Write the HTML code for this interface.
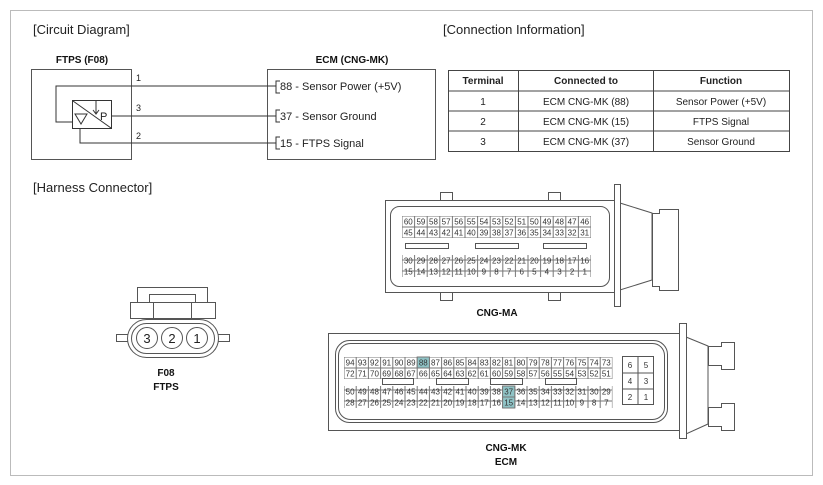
<!DOCTYPE html>
<html><head><meta charset="utf-8"><style>
body{margin:0;background:#fff}
svg{display:block;font-family:"Liberation Sans",Arial,sans-serif}
.c{font-size:8px;text-anchor:middle;fill:#333}
.t{font-size:11px;fill:#222}
.b{font-size:10px;font-weight:bold;text-anchor:middle;fill:#111}
</style></head><body>
<svg width="823" height="485" viewBox="0 0 823 485">
<defs>
<pattern id="pa" x="402" y="216" width="12.6" height="11" patternUnits="userSpaceOnUse"><rect x="0" y="0" width="12.6" height="11" fill="#fff" stroke="#777" stroke-width="1"/></pattern>
<pattern id="pk" x="344" y="357" width="12.2" height="11" patternUnits="userSpaceOnUse"><rect x="0" y="0" width="12.2" height="11" fill="#fff" stroke="#777" stroke-width="1"/></pattern>
</defs>
<rect x="10.5" y="10.5" width="802" height="465" fill="#fff" stroke="#bbb"/>
<text x="33" y="34" font-size="13" fill="#222">[Circuit Diagram]</text>
<text x="443" y="34" font-size="13" fill="#222">[Connection Information]</text>
<text x="33" y="192" font-size="13" fill="#222">[Harness Connector]</text>

<!-- circuit -->
<text x="82" y="63" class="b" font-size="10">FTPS (F08)</text>
<text x="352" y="63" class="b">ECM (CNG-MK)</text>
<rect x="31.5" y="69.5" width="100" height="90" fill="none" stroke="#555"/>
<rect x="267.5" y="69.5" width="168" height="90" fill="none" stroke="#555"/>
<g stroke="#333" fill="none" stroke-width="1">
<polyline points="276,86 56,86 56,122 72,122"/>
<line x1="112" y1="116" x2="276" y2="116"/>
<polyline points="80,128 80,143 276,143"/>
<rect x="72.5" y="100.5" width="39" height="28"/>
<line x1="73" y1="101" x2="111" y2="128"/>
<line x1="96" y1="101" x2="96" y2="113"/><polyline points="93,110 96,114 99,110"/>
<polygon points="75,114 87,114 81,124"/>
<polyline points="280,81 276,81 276,93 280,93"/>
<polyline points="280,110 276,110 276,122 280,122"/>
<polyline points="280,137 276,137 276,149 280,149"/>
</g>
<text x="100" y="120" font-size="11" fill="#222">P</text>
<text x="136" y="81" font-size="9" fill="#222">1</text>
<text x="136" y="111" font-size="9" fill="#222">3</text>
<text x="136" y="139" font-size="9" fill="#222">2</text>
<text x="280" y="90" class="t">88 - Sensor Power (+5V)</text>
<text x="280" y="120" class="t">37 - Sensor Ground</text>
<text x="280" y="147" class="t">15 - FTPS Signal</text>

<!-- table -->
<g stroke="#444" fill="none">
<rect x="448.5" y="70.5" width="341" height="81"/>
<line x1="449" y1="91" x2="790" y2="91"/>
<line x1="449" y1="111" x2="790" y2="111"/>
<line x1="449" y1="131" x2="790" y2="131"/>
<line x1="518.5" y1="70" x2="518.5" y2="151"/>
<line x1="653.5" y1="70" x2="653.5" y2="151"/>
</g>
<g font-size="10" text-anchor="middle" fill="#222">
<text x="483" y="84" font-weight="bold">Terminal</text><text x="586" y="84" font-weight="bold">Connected to</text><text x="721" y="84" font-weight="bold">Function</text>
<text x="483" y="105">1</text><text x="586" y="105">ECM CNG-MK (88)</text><text x="721" y="105">Sensor Power (+5V)</text>
<text x="483" y="125">2</text><text x="586" y="125">ECM CNG-MK (15)</text><text x="721" y="125">FTPS Signal</text>
<text x="483" y="145">3</text><text x="586" y="145">ECM CNG-MK (37)</text><text x="721" y="145">Sensor Ground</text>
</g>

<!-- F08 connector -->
<g stroke="#555" fill="#fff">
<rect x="137.5" y="287.5" width="70" height="20"/>
<rect x="149.5" y="294.5" width="46" height="10"/>
<rect x="130.5" y="302.5" width="85" height="16"/>
<rect x="153.5" y="302.5" width="38" height="16"/>
<rect x="116.5" y="334.5" width="113" height="7"/>
<rect x="127.5" y="319.5" width="91" height="38" rx="19"/>
<rect x="131.5" y="323.5" width="83" height="30" rx="15"/>
<circle cx="147" cy="338" r="10.5"/><circle cx="172" cy="338" r="10.5"/><circle cx="197" cy="338" r="10.5"/>
</g>
<g font-size="13" text-anchor="middle" fill="#222"><text x="147" y="343">3</text><text x="172" y="343">2</text><text x="197" y="343">1</text></g>
<text x="166" y="376" class="b" font-size="11">F08</text>
<text x="166" y="390" class="b" font-size="11">FTPS</text>

<!-- CNG-MA -->
<g stroke="#555" fill="#fff">
<rect x="440.5" y="192.5" width="12" height="9"/><rect x="548.5" y="192.5" width="12" height="9"/>
<rect x="440.5" y="291.5" width="12" height="9"/><rect x="548.5" y="291.5" width="12" height="9"/>
<rect x="385.5" y="200.5" width="229" height="92"/>
<rect x="390.5" y="206.5" width="219" height="80" rx="9"/>
<polygon points="620,203 652,213 652,280 620,290"/>
<path d="M652.5 213.5h7v-4h19v81h-19v-4h-7z"/>
<rect x="614.5" y="184.5" width="6" height="122"/>
</g>
<rect x="402" y="216" width="189" height="22" fill="url(#pa)"/>
<rect x="402" y="255" width="189" height="22" fill="url(#pa)"/>
<g fill="#fff" stroke="#555"><rect x="405.5" y="243.5" width="43" height="5"/><rect x="475.5" y="243.5" width="43" height="5"/><rect x="543.5" y="243.5" width="43" height="5"/></g>
<g class="c">
<text x="408.3" y="224.5">60</text><text x="420.9" y="224.5">59</text><text x="433.5" y="224.5">58</text><text x="446.1" y="224.5">57</text><text x="458.7" y="224.5">56</text><text x="471.3" y="224.5">55</text><text x="483.9" y="224.5">54</text><text x="496.5" y="224.5">53</text><text x="509.1" y="224.5">52</text><text x="521.7" y="224.5">51</text><text x="534.3" y="224.5">50</text><text x="546.9" y="224.5">49</text><text x="559.5" y="224.5">48</text><text x="572.1" y="224.5">47</text><text x="584.7" y="224.5">46</text>
<text x="408.3" y="235.5">45</text><text x="420.9" y="235.5">44</text><text x="433.5" y="235.5">43</text><text x="446.1" y="235.5">42</text><text x="458.7" y="235.5">41</text><text x="471.3" y="235.5">40</text><text x="483.9" y="235.5">39</text><text x="496.5" y="235.5">38</text><text x="509.1" y="235.5">37</text><text x="521.7" y="235.5">36</text><text x="534.3" y="235.5">35</text><text x="546.9" y="235.5">34</text><text x="559.5" y="235.5">33</text><text x="572.1" y="235.5">32</text><text x="584.7" y="235.5">31</text>
<text x="408.3" y="263.5">30</text><text x="420.9" y="263.5">29</text><text x="433.5" y="263.5">28</text><text x="446.1" y="263.5">27</text><text x="458.7" y="263.5">26</text><text x="471.3" y="263.5">25</text><text x="483.9" y="263.5">24</text><text x="496.5" y="263.5">23</text><text x="509.1" y="263.5">22</text><text x="521.7" y="263.5">21</text><text x="534.3" y="263.5">20</text><text x="546.9" y="263.5">19</text><text x="559.5" y="263.5">18</text><text x="572.1" y="263.5">17</text><text x="584.7" y="263.5">16</text>
<text x="408.3" y="274.5">15</text><text x="420.9" y="274.5">14</text><text x="433.5" y="274.5">13</text><text x="446.1" y="274.5">12</text><text x="458.7" y="274.5">11</text><text x="471.3" y="274.5">10</text><text x="483.9" y="274.5">9</text><text x="496.5" y="274.5">8</text><text x="509.1" y="274.5">7</text><text x="521.7" y="274.5">6</text><text x="534.3" y="274.5">5</text><text x="546.9" y="274.5">4</text><text x="559.5" y="274.5">3</text><text x="572.1" y="274.5">2</text><text x="584.7" y="274.5">1</text>
</g>
<text x="497" y="316" class="b" font-size="11">CNG-MA</text>

<!-- CNG-MK -->
<g stroke="#555" fill="#fff">
<rect x="328.5" y="333.5" width="351" height="97"/>
<rect x="335.5" y="340.5" width="332" height="82" rx="14"/>
<rect x="338.5" y="343.5" width="326" height="76" rx="12"/>
<polygon points="686,337 708,346 708,424 686,434"/>
<path d="M708.5 346.5h13v-4h13v27h-13v-4h-13z"/>
<path d="M708.5 407.5h13v-4h13v27h-13v-4h-13z"/>
<rect x="679.5" y="323.5" width="7" height="115"/>
<rect x="622.5" y="356.5" width="31" height="48"/>
<line x1="638" y1="357" x2="638" y2="404"/><line x1="623" y1="373" x2="653" y2="373"/><line x1="623" y1="389" x2="653" y2="389"/>
</g>
<rect x="344" y="357" width="268.4" height="22" fill="url(#pk)"/>
<rect x="344" y="386" width="268.4" height="22" fill="url(#pk)"/>
<g fill="#8fc3c6" stroke="#777"><rect x="417.2" y="357" width="12.2" height="11"/><rect x="502.6" y="386" width="12.2" height="11"/><rect x="502.6" y="397" width="12.2" height="11"/></g>
<g fill="#fff" stroke="#555"><rect x="382.5" y="378.5" width="31" height="6"/><rect x="436.5" y="378.5" width="32" height="6"/><rect x="490.5" y="378.5" width="32" height="6"/><rect x="545.5" y="378.5" width="31" height="6"/></g>
<g class="c">
<text x="350.1" y="365.5">94</text><text x="362.3" y="365.5">93</text><text x="374.5" y="365.5">92</text><text x="386.7" y="365.5">91</text><text x="398.9" y="365.5">90</text><text x="411.1" y="365.5">89</text><text x="423.3" y="365.5">88</text><text x="435.5" y="365.5">87</text><text x="447.7" y="365.5">86</text><text x="459.9" y="365.5">85</text><text x="472.1" y="365.5">84</text><text x="484.3" y="365.5">83</text><text x="496.5" y="365.5">82</text><text x="508.7" y="365.5">81</text><text x="520.9" y="365.5">80</text><text x="533.1" y="365.5">79</text><text x="545.3" y="365.5">78</text><text x="557.5" y="365.5">77</text><text x="569.7" y="365.5">76</text><text x="581.9" y="365.5">75</text><text x="594.1" y="365.5">74</text><text x="606.3" y="365.5">73</text>
<text x="350.1" y="376.5">72</text><text x="362.3" y="376.5">71</text><text x="374.5" y="376.5">70</text><text x="386.7" y="376.5">69</text><text x="398.9" y="376.5">68</text><text x="411.1" y="376.5">67</text><text x="423.3" y="376.5">66</text><text x="435.5" y="376.5">65</text><text x="447.7" y="376.5">64</text><text x="459.9" y="376.5">63</text><text x="472.1" y="376.5">62</text><text x="484.3" y="376.5">61</text><text x="496.5" y="376.5">60</text><text x="508.7" y="376.5">59</text><text x="520.9" y="376.5">58</text><text x="533.1" y="376.5">57</text><text x="545.3" y="376.5">56</text><text x="557.5" y="376.5">55</text><text x="569.7" y="376.5">54</text><text x="581.9" y="376.5">53</text><text x="594.1" y="376.5">52</text><text x="606.3" y="376.5">51</text>
<text x="350.1" y="394.5">50</text><text x="362.3" y="394.5">49</text><text x="374.5" y="394.5">48</text><text x="386.7" y="394.5">47</text><text x="398.9" y="394.5">46</text><text x="411.1" y="394.5">45</text><text x="423.3" y="394.5">44</text><text x="435.5" y="394.5">43</text><text x="447.7" y="394.5">42</text><text x="459.9" y="394.5">41</text><text x="472.1" y="394.5">40</text><text x="484.3" y="394.5">39</text><text x="496.5" y="394.5">38</text><text x="508.7" y="394.5">37</text><text x="520.9" y="394.5">36</text><text x="533.1" y="394.5">35</text><text x="545.3" y="394.5">34</text><text x="557.5" y="394.5">33</text><text x="569.7" y="394.5">32</text><text x="581.9" y="394.5">31</text><text x="594.1" y="394.5">30</text><text x="606.3" y="394.5">29</text>
<text x="350.1" y="405.5">28</text><text x="362.3" y="405.5">27</text><text x="374.5" y="405.5">26</text><text x="386.7" y="405.5">25</text><text x="398.9" y="405.5">24</text><text x="411.1" y="405.5">23</text><text x="423.3" y="405.5">22</text><text x="435.5" y="405.5">21</text><text x="447.7" y="405.5">20</text><text x="459.9" y="405.5">19</text><text x="472.1" y="405.5">18</text><text x="484.3" y="405.5">17</text><text x="496.5" y="405.5">16</text><text x="508.7" y="405.5">15</text><text x="520.9" y="405.5">14</text><text x="533.1" y="405.5">13</text><text x="545.3" y="405.5">12</text><text x="557.5" y="405.5">11</text><text x="569.7" y="405.5">10</text><text x="581.9" y="405.5">9</text><text x="594.1" y="405.5">8</text><text x="606.3" y="405.5">7</text>
<text x="630" y="368">6</text><text x="646" y="368">5</text><text x="630" y="384">4</text><text x="646" y="384">3</text><text x="630" y="400">2</text><text x="646" y="400">1</text>
</g>
<text x="506" y="451" class="b" font-size="11">CNG-MK</text>
<text x="506" y="465" class="b" font-size="11">ECM</text>
</svg>
</body></html>
